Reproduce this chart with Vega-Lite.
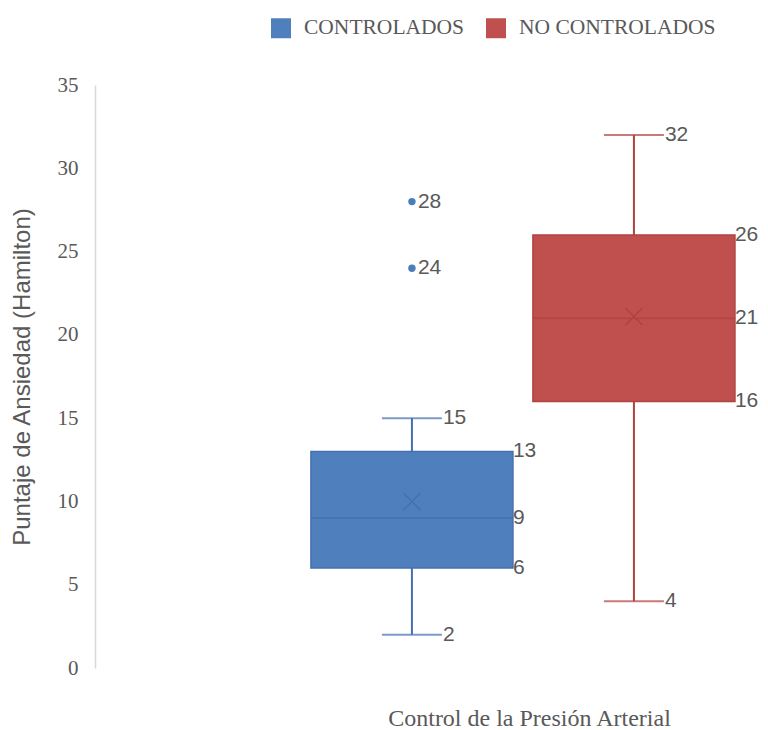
{
  "$schema": "https://vega.github.io/schema/vega-lite/v6.json",
  "autosize": {"type": "none"},
  "padding": {"left": 95, "top": 85, "right": 13, "bottom": 62},
  "width": 660,
  "height": 583,
  "background": "white",
  "config": {"view": {"stroke": null}, "font": "Liberation Sans"},
  "datasets": {
    "resumen": [
      {"grupo": "CONTROLADOS", "min": 2, "q1": 6, "mediana": 9, "q3": 13, "max": 15, "media": 10},
      {"grupo": "NO CONTROLADOS", "min": 4, "q1": 16, "mediana": 21, "q3": 26, "max": 32, "media": 21.1}
    ],
    "atipicos": [
      {"grupo": "CONTROLADOS", "valor": 28},
      {"grupo": "CONTROLADOS", "valor": 24}
    ]
  },
  "encoding": {
    "x": {
      "field": "grupo",
      "type": "nominal",
      "scale": {"domain": ["CONTROLADOS", "NO CONTROLADOS"], "paddingInner": 0.09, "paddingOuter": 0.5315, "align": 0.915},
      "axis": {
        "domain": false, "ticks": false, "labels": false,
        "title": "Control de la Presión Arterial",
        "titleFont": "Liberation Serif", "titleFontSize": 24, "titleFontWeight": "normal",
        "titleColor": "#595959", "titleX": 434, "titleY": 50, "titleBaseline": "middle", "titleAlign": "center"
      }
    }
  },
  "layer": [
    {
      "data": {"name": "resumen"},
      "mark": {"type": "rule", "strokeWidth": 2},
      "encoding": {
        "y": {
          "field": "min", "type": "quantitative",
          "scale": {"domain": [0, 35], "nice": false, "zero": true},
          "axis": {
            "values": [0, 5, 10, 15, 20, 25, 30, 35],
            "domain": true, "domainColor": "#D9D9D9", "domainWidth": 1.5,
            "ticks": false, "grid": false,
            "labelFont": "Liberation Serif", "labelFontSize": 21, "labelColor": "#595959", "labelPadding": 17,
            "title": "Puntaje de Ansiedad (Hamilton)",
            "titleFont": "Liberation Sans", "titleFontSize": 24, "titleFontWeight": "normal", "titleColor": "#595959",
            "titleX": -73, "titleY": 291.5, "titleAngle": -90, "titleBaseline": "middle", "titleAlign": "center"
          }
        },
        "y2": {"field": "max"},
        "color": {"field": "grupo", "type": "nominal", "scale": {"range": ["#4470B0", "#B0423F"]}, "legend": null}
      }
    },
    {
      "data": {"name": "resumen"},
      "mark": {"type": "tick", "size": 60, "thickness": 2},
      "encoding": {
        "y": {"field": "min", "type": "quantitative"},
        "color": {"field": "grupo", "type": "nominal", "legend": null}
      }
    },
    {
      "data": {"name": "resumen"},
      "mark": {"type": "tick", "size": 60, "thickness": 2},
      "encoding": {
        "y": {"field": "max", "type": "quantitative"},
        "color": {"field": "grupo", "type": "nominal", "legend": null}
      }
    },
    {
      "data": {"name": "resumen"},
      "mark": {"type": "bar"},
      "encoding": {
        "y": {"field": "q1", "type": "quantitative"},
        "y2": {"field": "q3"},
        "fill": {
          "field": "grupo", "type": "nominal",
          "scale": {"domain": ["CONTROLADOS", "NO CONTROLADOS"], "range": ["#4F80BD", "#C0504D"]},
          "legend": {
            "orient": "none", "legendX": 175, "legendY": -68, "direction": "horizontal", "title": null,
            "symbolType": "square", "symbolSize": 400,
            "labelFont": "Liberation Serif", "labelFontSize": 21.5, "labelColor": "#595959", "labelLimit": 500,
            "columnPadding": 20, "labelOffset": 12
          }
        }
      }
    },
    {
      "data": {"name": "resumen"},
      "mark": {"type": "bar", "filled": false, "strokeWidth": 1.5},
      "encoding": {
        "y": {"field": "q1", "type": "quantitative"},
        "y2": {"field": "q3"},
        "color": {"field": "grupo", "type": "nominal", "legend": null}
      }
    },
    {
      "data": {"name": "resumen"},
      "mark": {"type": "tick", "thickness": 2, "size": 202},
      "encoding": {
        "y": {"field": "mediana", "type": "quantitative"},
        "color": {"field": "grupo", "type": "nominal", "legend": null}
      }
    },
    {
      "data": {"name": "resumen"},
      "mark": {"type": "point", "shape": "M-1,-1L1,1M-1,1L1,-1", "filled": false, "size": 289, "strokeWidth": 1.5, "opacity": 1},
      "encoding": {
        "y": {"field": "media", "type": "quantitative"},
        "color": {"field": "grupo", "type": "nominal", "legend": null}
      }
    },
    {
      "data": {"name": "atipicos"},
      "mark": {"type": "circle", "size": 55, "opacity": 1, "color": "#4A7EBB"},
      "encoding": {
        "y": {"field": "valor", "type": "quantitative"}
      }
    },
    {
      "data": {"name": "atipicos"},
      "mark": {"type": "text", "align": "left", "baseline": "middle", "dx": 6, "font": "Liberation Sans", "fontSize": 21, "color": "#595959"},
      "encoding": {
        "y": {"field": "valor", "type": "quantitative"},
        "text": {"field": "valor", "type": "quantitative"}
      }
    },
    {
      "data": {"name": "resumen"},
      "transform": [{"fold": ["min", "max"], "as": ["estadistico", "valor"]}],
      "mark": {"type": "text", "align": "left", "baseline": "middle", "dx": 31, "font": "Liberation Sans", "fontSize": 21, "color": "#595959"},
      "encoding": {
        "y": {"field": "valor", "type": "quantitative"},
        "text": {"field": "valor", "type": "quantitative"}
      }
    },
    {
      "data": {"name": "resumen"},
      "transform": [{"fold": ["q1", "mediana", "q3"], "as": ["estadistico", "valor"]}],
      "mark": {"type": "text", "align": "left", "baseline": "middle", "dx": 101, "font": "Liberation Sans", "fontSize": 21, "color": "#595959"},
      "encoding": {
        "y": {"field": "valor", "type": "quantitative"},
        "text": {"field": "valor", "type": "quantitative"}
      }
    }
  ]
}
